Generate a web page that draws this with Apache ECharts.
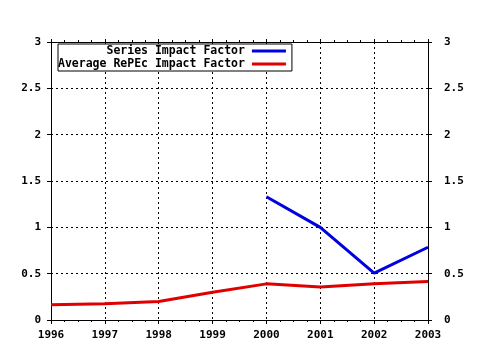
<!DOCTYPE html>
<html><head><meta charset="utf-8">
<script src="https://cdn.jsdelivr.net/npm/echarts@6/dist/echarts.min.js"></script>
<style>html,body{margin:0;padding:0;background:#fff}#c{width:480px;height:350px}</style>
</head><body><div id="c"></div>
<script>
const years = [1996, 1997, 1998, 1999, 2000, 2001, 2002, 2003];
const seriesImpact = [null, null, null, null, 1.33, 1.0, 0.505, 0.785];
const repecImpact = [0.165, 0.175, 0.20, 0.30, 0.39, 0.355, 0.39, 0.415];
const seriesNames = ['       Series Impact Factor', 'Average RePEc Impact Factor'];
const yTicks = [0, 0.5, 1, 1.5, 2, 2.5, 3];

const font = 'DejaVu Sans Mono';
const lbl = {fontFamily: font, fontWeight: 'bold', fontSize: 11, color: '#000'};
const dotted = {show: true, lineStyle: {color: '#000', type: [2, 3], width: 1}};

const chart = echarts.init(document.getElementById('c'), null, {renderer: 'canvas'});
chart.setOption({
  animation: false,
  backgroundColor: '#fff',
  grid: {left: 51, right: 52, top: 42, bottom: 30},
  legend: {
    orient: 'vertical', left: 58, top: 44, align: 'right',
    backgroundColor: '#fff',
    borderColor: '#000', borderWidth: 1, padding: [1, 6, 1, 0],
    itemGap: 1, itemWidth: 34, itemHeight: 3, icon: 'rect',
    textStyle: {fontFamily: font, fontWeight: 'bold', fontSize: 11.5, color: '#000', padding: [0, 2, 0, 0]},
    data: seriesNames
  },
  xAxis: [{
    type: 'value', min: years[0], max: years[years.length - 1], interval: 1,
    axisLine: {show: true, lineStyle: {color: '#000', width: 1}},
    axisTick: {show: true, length: 4, lineStyle: {color: '#000'}},
    minorTick: {show: true, splitNumber: 4, length: 2, lineStyle: {color: '#000'}},
    axisLabel: Object.assign({margin: 10, formatter: v => String(v)}, lbl),
    splitLine: dotted
  }, {
    type: 'value', position: 'top', min: years[0], max: years[years.length - 1], interval: 1,
    axisLine: {show: true, onZero: false, lineStyle: {color: '#000', width: 1}},
    axisTick: {show: true, length: 3, lineStyle: {color: '#000'}},
    minorTick: {show: true, splitNumber: 4, length: 2, lineStyle: {color: '#000'}},
    axisLabel: {show: false}, splitLine: {show: false}
  }],
  yAxis: [{
    type: 'value', min: 0, max: 3, interval: 0.5, position: 'left',
    axisLine: {show: true, lineStyle: {color: '#000', width: 1}},
    axisTick: {show: true, length: 4, lineStyle: {color: '#000'}},
    axisLabel: Object.assign({margin: 10}, lbl),
    splitLine: dotted
  }, {
    type: 'value', min: 0, max: 3, interval: 0.5, position: 'right',
    axisLine: {show: true, lineStyle: {color: '#000', width: 1}},
    axisTick: {show: true, length: 4, lineStyle: {color: '#000'}},
    axisLabel: Object.assign({margin: 16}, lbl),
    splitLine: {show: false}
  }],
  series: [{
    name: seriesNames[0], type: 'line', showSymbol: false, symbol: 'none',
    color: '#0000e0', lineStyle: {width: 3, color: '#0000e0'},
    data: years.map((y, i) => [y, seriesImpact[i]]), connectNulls: false
  }, {
    name: seriesNames[1], type: 'line', showSymbol: false, symbol: 'none',
    color: '#e00000', lineStyle: {width: 3, color: '#e00000'},
    data: years.map((y, i) => [y, repecImpact[i]])
  }]
});
</script></body></html>
